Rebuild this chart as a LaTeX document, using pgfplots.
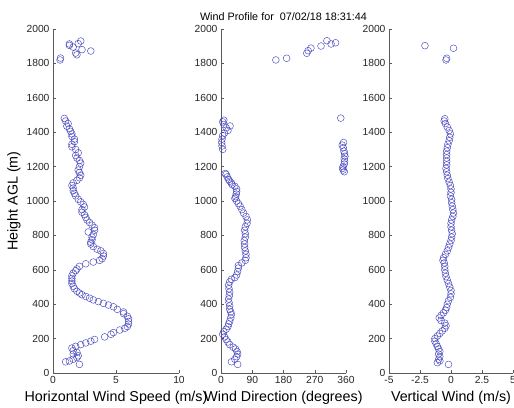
\documentclass[border=0pt]{standalone}
\usepackage{pgfplots}
\pgfplotsset{compat=1.18}
\usepackage{fontspec}
\setmainfont{Liberation Sans}
\definecolor{mk}{RGB}{70,70,190}
\definecolor{ax}{RGB}{90,90,90}
\pgfplotsset{
  wp/.style={
    scale only axis, height=344pt,
    axis x line=bottom, axis y line=left,
    axis line style={-, ax, line width=0.5pt},
    every tick/.style={ax, line width=0.5pt},
    tick align=inside, major tick length=3pt,
    ymin=0, ymax=2000, ytick={0,200,...,2000},
    /pgf/number format/1000 sep={},
    /pgf/number format/assume math mode=true,
    tick label style={font=\fontsize{10.3}{12}\selectfont, text=black!85},
    every axis x label/.style={at={(axis description cs:0.5,0)}, yshift=-25pt, anchor=center, font=\fontsize{14.3}{16}\selectfont},
    every axis y label/.style={at={(axis description cs:0,0.5)}, xshift=-39pt, rotate=90, anchor=center, font=\fontsize{14.3}{16}\selectfont},
    every axis title/.style={at={(axis description cs:0.5,1)}, anchor=center, yshift=12pt, font=\fontsize{10.8}{12}\selectfont},
    clip=false,
  },
  wpm/.style={only marks, mark=o, mark size=3.4pt, color=mk, mark options={line width=0.45pt}},
}
\begin{document}
\begin{tikzpicture}
\path[use as bounding box] (0,0) rectangle (514pt,407pt);
% Panel 1
\begin{axis}[wp, at={(53pt,34pt)}, anchor=south west, width=126pt,
  xmin=0, xmax=10, xtick={0,5,10},
  xlabel={Horizontal Wind Speed (m/s)}, ylabel={Height AGL (m)}]
\addplot[wpm] coordinates {
(2.1,50)(1.0,65)(1.3,70)(1.6,80)(1.9,90)(2.0,100)(1.6,110)(1.9,120)(1.6,130)(1.5,145)
(1.8,155)(2.2,165)(2.6,175)(3.0,185)(3.3,195)(4.1,210)(4.6,225)(4.8,235)(5.3,250)(5.7,260)
(5.9,270)(6.0,285)(6.0,300)(6.0,315)(5.9,330)(5.6,345)(5.6,355)(5.1,370)(4.8,385)(4.4,395)
(4.0,405)(3.6,415)(3.2,425)(2.9,435)(2.6,445)(2.3,455)(2.1,465)(1.9,475)(1.7,490)(1.6,505)
(1.5,520)(1.5,535)(1.5,550)(1.5,565)(1.6,580)(1.8,595)(1.9,605)(2.1,620)(2.6,635)(3.2,645)
(3.7,655)(3.9,665)(4.0,680)(4.0,695)(3.8,710)(3.5,720)(3.2,735)(3.0,750)(3.0,760)(3.1,775)
(3.1,790)(3.2,805)(2.8,820)(3.3,830)(3.3,845)(3.1,860)(2.9,875)(2.7,890)(2.6,905)(2.5,920)
(2.3,935)(2.3,950)(2.5,965)(2.4,980)(2.2,995)(2.0,1010)(1.8,1030)(1.7,1045)(1.6,1060)(1.6,1075)
(1.5,1090)(1.6,1105)(1.9,1120)(2.1,1135)(2.2,1150)(2.1,1165)(2.0,1180)(2.1,1200)(2.2,1220)(2.1,1235)
(1.9,1250)(1.8,1265)(2.0,1280)(1.8,1300)(1.5,1315)(1.5,1330)(1.7,1345)(1.7,1360)(1.5,1375)(1.5,1390)
(1.4,1405)(1.3,1420)(1.1,1435)(1.2,1450)(1.0,1465)(0.9,1480)
(0.56,1820)(0.6,1831)(1.3,1913)(1.3,1905)(1.6,1895)(2.2,1930)(2.0,1915)(1.8,1860)(1.9,1850)(2.3,1880)(3.0,1872)
};
\end{axis}
% Panel 2
\begin{axis}[wp, at={(221pt,34pt)}, anchor=south west, width=125pt,
  xmin=0, xmax=360, xtick={0,90,180,270,360},
  xlabel={Wind Direction (degrees)}, title={Wind Profile for\ \ 07/02/18 18:31:44}]
\addplot[wpm] coordinates {
(48,50)(30,65)(40,80)(45,95)(48,110)(46,125)(42,140)(35,150)(25,165)(20,180)
(15,195)(10,210)(5,225)(8,240)(15,255)(20,270)(22,285)(25,300)(28,320)(30,340)
(28,355)(25,370)(25,390)(23,410)(22,430)(24,450)(25,470)(23,490)(22,510)(25,530)
(30,545)(40,555)(45,570)(48,590)(50,610)(50,625)(60,640)(70,655)(72,670)(72,690)
(70,710)(68,730)(68,750)(67,770)(70,790)(70,810)(68,830)(70,850)(75,870)(76,890)
(72,910)(65,930)(60,950)(55,970)(50,985)(45,1000)(40,1015)(42,1025)(44,1040)(45,1055)
(45,1070)(40,1085)(32,1095)(30,1105)(25,1115)(22,1125)(18,1140)(15,1155)(12,1160)
(5,1300)(3,1320)(2,1340)(3,1360)(5,1380)(10,1395)(20,1410)(15,1425)(26,1436)(8,1445)(5,1460)(8,1470)
(355,1170)(352,1180)(350,1190)(352,1200)(355,1215)(356,1230)(355,1245)(357,1260)(356,1275)(354,1290)
(352,1310)(349,1325)(353,1340)(345,1482)
(158,1820)(189,1830)(247,1859)(251,1874)(259,1889)(288,1901)(305,1932)(317,1913)(330,1920)
};
\end{axis}
% Panel 3
\begin{axis}[wp, at={(389pt,34pt)}, anchor=south west, width=124pt,
  xmin=-5, xmax=5, xtick={-5,-2.5,0,2.5,5},
  xticklabels={-5,-2.5,0,2.5,5},
  xlabel={Vertical Wind (m/s)}]
\addplot[wpm] coordinates {
(-0.2,50)(-1.1,60)(-0.9,70)(-1.0,80)(-0.9,95)(-1.0,110)(-0.9,125)(-1.0,140)(-1.1,155)(-1.2,170)
(-1.3,185)(-1.3,200)(-1.1,215)(-0.9,230)(-0.7,245)(-0.5,260)(-0.4,275)(-0.5,290)(-0.8,305)(-0.95,320)
(-0.8,335)(-0.6,350)(-0.45,365)(-0.35,380)(-0.3,400)(-0.2,420)(-0.05,440)(0.0,460)(0.0,480)(-0.1,500)
(-0.2,520)(-0.3,540)(-0.4,560)(-0.45,580)(-0.5,600)(-0.5,620)(-0.55,640)(-0.65,655)(-0.6,670)(-0.45,690)
(-0.3,710)(-0.2,730)(-0.1,750)(0.0,770)(0.05,790)(0.1,810)(0.05,830)(0.0,850)(0.0,870)(0.05,890)
(0.15,910)(0.2,930)(0.15,950)(0.1,970)(0.05,990)(0.05,1010)(-0.05,1030)(0.0,1050)(0.0,1070)(-0.05,1090)
(-0.15,1110)(-0.25,1130)(-0.3,1150)(-0.35,1170)(-0.4,1190)(-0.35,1210)(-0.35,1230)(-0.35,1250)(-0.35,1270)(-0.35,1290)
(-0.3,1310)(-0.25,1330)(-0.15,1350)(-0.1,1370)(-0.05,1390)(-0.15,1410)(-0.3,1430)(-0.45,1450)(-0.55,1465)(-0.5,1478)
(-2.1,1903)(0.2,1888)(-0.35,1830)(-0.4,1820)
};
\end{axis}
\end{tikzpicture}
\end{document}
